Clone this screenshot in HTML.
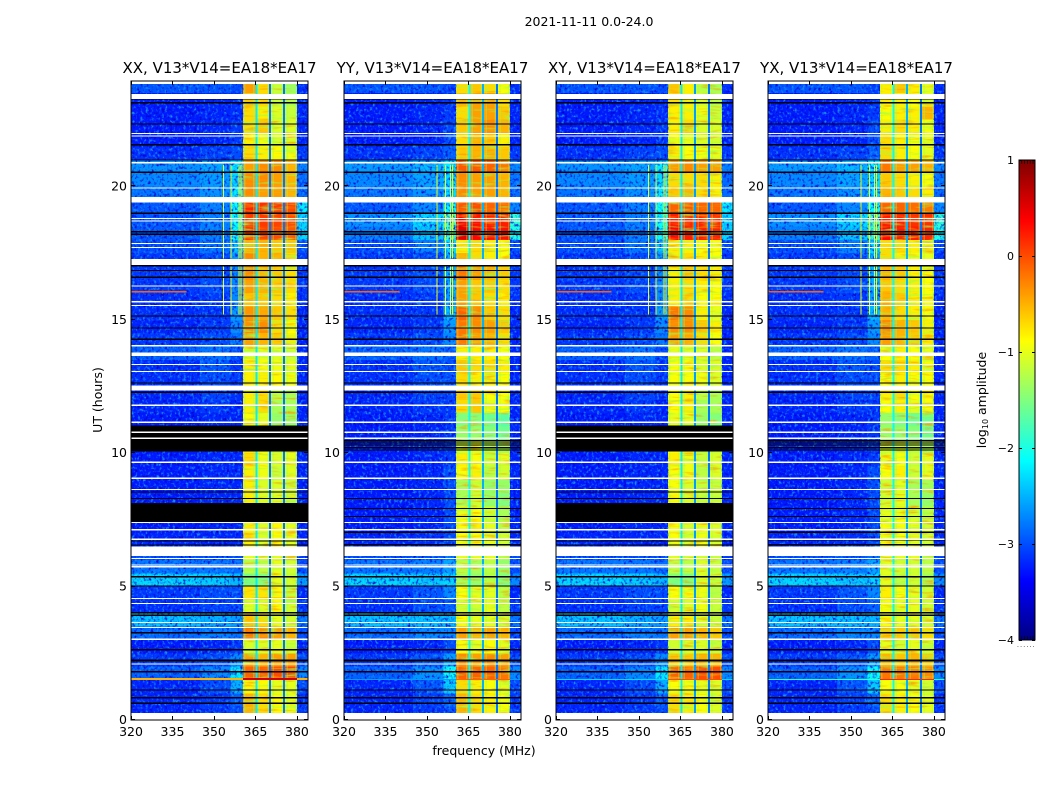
<!DOCTYPE html>
<html>
<head>
<meta charset="utf-8">
<title>2021-11-11 spectrogram</title>
<style>
html,body{margin:0;padding:0;background:#fff;width:1050px;height:800px;overflow:hidden}
svg{display:block}
text{font-family:"DejaVu Sans","Liberation Sans",sans-serif;fill:#000}
</style>
</head>
<body>
<svg id="figure" xmlns="http://www.w3.org/2000/svg" width="1050" height="800" viewBox="0 0 1050 800">
  <defs>
    <filter id="speckle-light" x="0" y="0" width="1" height="1" color-interpolation-filters="sRGB">
      <feTurbulence type="fractalNoise" baseFrequency="0.37 0.33" numOctaves="2" seed="3"/>
      <feColorMatrix values="0 0 0 0 .1  0 0 0 0 .55  0 0 0 0 1  3.5 0 0 0 -1.8"/>
    </filter>
    <filter id="speckle-dark" x="0" y="0" width="1" height="1" color-interpolation-filters="sRGB">
      <feTurbulence type="fractalNoise" baseFrequency="0.37 0.33" numOctaves="2" seed="11"/>
      <feColorMatrix values="0 0 0 0 0  0 0 0 0 0  0 0 0 0 .8  0 3 0 0 -1.55"/>
    </filter>
    <filter id="stripe-green" x="0" y="0" width="1" height="1" color-interpolation-filters="sRGB">
      <feTurbulence type="fractalNoise" baseFrequency="0.05 0.34" numOctaves="2" seed="5"/>
      <feColorMatrix values="0 0 0 0 .6  0 0 0 0 1  0 0 0 0 .3  2.5 0 0 0 -1.35"/>
    </filter>
    <filter id="stripe-orange" x="0" y="0" width="1" height="1" color-interpolation-filters="sRGB">
      <feTurbulence type="fractalNoise" baseFrequency="0.05 0.34" numOctaves="2" seed="17"/>
      <feColorMatrix values="0 0 0 0 1  0 0 0 0 .6  0 0 0 0 0  2.5 0 0 0 -1.35"/>
    </filter>
  </defs>
  <text x="589" y="26" font-size="12.5" text-anchor="middle">2021-11-11 0.0-24.0</text>
  <text x="484" y="755" font-size="12.5" text-anchor="middle">frequency (MHz)</text>
  <text x="102" y="400" font-size="12.5" text-anchor="middle" transform="rotate(-90 102 400)">UT (hours)</text>
  <text x="986" y="400" font-size="12.5" text-anchor="middle" transform="rotate(-90 986 400)">log<tspan font-size="8" dy="2">10</tspan><tspan dy="-2"> amplitude</tspan></text>
  <g id="panels"></g>
  <g id="colorbar"></g>
</svg>
<script>
// ---- axis data ----
const panelNames = ['XX', 'YY', 'XY', 'YX'];
const panelTitleSuffix = ', V13*V14=EA18*EA17';
const freqTicks = [320, 335, 350, 365, 380];
const hourTicks = [0, 5, 10, 15, 20];
const colorTicks = [-4, -3, -2, -1, 0, 1];
const quietEdges = [320, 345, 356, 360.5];
const bandEdges = [360.5, 365, 370, 375, 380];
const outerEdges = [380, 384];
const hourStep = [0.5];

// ---- log10 amplitude outside the band per half-hour row: [320-345, 345-356, 356-360.5, 380-384] ----
const quietA = [
[-3.2,-3.1,-3.0,-3.1],[-3.2,-3.1,-2.9,-3.1],[-3.2,-3.0,-2.5,-3.0],[-2.9,-2.7,-2.2,-2.7],
[-3.1,-3.0,-2.7,-3.0],[-3.25,-3.2,-3.1,-3.2],[-2.85,-2.75,-2.8,-3.0],[-2.4,-2.5,-2.6,-2.8],
[-3.15,-3.05,-3.05,-3.1],[-3.1,-3.0,-3.0,-3.2],[-2.3,-2.35,-2.45,-2.6],[-2.8,-2.8,-2.85,-3.0],
[-3.0,-3.0,-3.0,-3.1],[-3.2,-3.2,-3.2,-3.2],[-3.25,-3.2,-3.2,-3.2],[-3.25,-3.2,-3.2,-3.2],
[-3.25,-3.2,-3.2,-3.2],[-3.25,-3.2,-3.2,-3.2],[-3.25,-3.2,-3.2,-3.2],[-3.25,-3.2,-3.2,-3.2],
[-3.25,-3.2,-3.2,-3.2],[-3.25,-3.2,-3.2,-3.2],[-3.25,-3.2,-3.2,-3.2],[-3.2,-3.1,-3.2,-3.2],
[-3.2,-3.05,-3.15,-3.2],[-3.15,-3.0,-3.1,-3.2],[-3.15,-2.95,-3.1,-3.2],[-2.9,-2.8,-3.0,-3.2],
[-3.1,-3.0,-2.8,-3.2],[-3.2,-3.1,-2.7,-3.2],[-3.15,-3.1,-2.6,-3.2],[-3.15,-3.1,-2.7,-3.15],
[-3.1,-3.0,-2.7,-3.1],[-3.1,-3.0,-2.7,-3.1],[-3.1,-3.0,-2.6,-3.1],[-3.0,-2.8,-2.4,-3.0],
[-2.95,-2.75,-2.1,-2.3],[-2.95,-2.75,-2.1,-2.3],[-2.95,-2.75,-2.1,-2.2],[-2.8,-2.65,-2.2,-2.85],
[-2.7,-2.6,-2.3,-2.85],[-2.65,-2.55,-2.2,-2.75],[-3.15,-3.05,-3.0,-3.1],[-3.25,-3.2,-3.1,-3.2],
[-3.25,-3.2,-3.1,-3.2],[-3.25,-3.2,-3.15,-3.2],[-3.25,-3.2,-3.15,-3.2],[-2.95,-2.95,-3.0,-3.15]
];
const quietB = [
[-3.2,-3.1,-3.0,-3.1],[-3.2,-3.05,-2.85,-3.1],[-3.2,-2.95,-2.35,-3.0],[-2.9,-2.65,-2.1,-2.7],
[-3.1,-2.95,-2.6,-3.0],[-3.25,-3.2,-3.0,-3.2],[-2.85,-2.7,-2.7,-3.0],[-2.4,-2.4,-2.45,-2.8],
[-3.15,-3.0,-2.9,-3.1],[-3.1,-2.95,-2.7,-3.2],[-2.3,-2.35,-2.3,-2.7],[-2.8,-2.75,-2.55,-3.0],
[-3.0,-2.95,-2.8,-3.0],[-3.2,-3.15,-3.0,-3.2],[-3.25,-3.2,-3.0,-3.2],[-3.25,-3.2,-3.0,-3.2],
[-3.25,-3.2,-3.0,-3.2],[-3.25,-3.2,-3.0,-3.2],[-3.25,-3.2,-3.0,-3.2],[-3.25,-3.2,-3.1,-3.2],
[-3.25,-3.2,-3.1,-3.2],[-3.25,-3.2,-3.1,-3.2],[-3.25,-3.2,-3.1,-3.2],[-3.2,-3.1,-3.1,-3.2],
[-3.2,-3.05,-3.05,-3.2],[-3.15,-3.0,-3.0,-3.2],[-3.15,-2.95,-3.0,-3.2],[-2.9,-2.8,-2.9,-3.2],
[-3.1,-3.0,-2.7,-3.2],[-3.2,-3.1,-2.6,-3.2],[-3.15,-3.1,-2.45,-3.2],[-3.15,-3.1,-2.6,-3.15],
[-3.1,-3.0,-2.5,-3.1],[-3.1,-3.0,-2.5,-3.1],[-3.1,-3.0,-2.5,-3.1],[-3.0,-2.75,-2.3,-3.0],
[-2.75,-2.4,-1.8,-2.0],[-2.65,-2.3,-1.7,-1.9],[-2.95,-2.7,-2.1,-2.7],[-2.8,-2.65,-2.3,-2.85],
[-2.7,-2.55,-2.3,-2.8],[-2.6,-2.45,-2.2,-2.7],[-3.15,-3.05,-2.9,-3.1],[-3.25,-3.2,-3.0,-3.2],
[-3.25,-3.2,-3.0,-3.2],[-3.25,-3.2,-3.1,-3.2],[-3.25,-3.2,-3.1,-3.2],[-2.95,-2.95,-3.05,-3.15]
];

// ---- log10 amplitude of the four sub-bands per half-hour row ----
const bandXX = [
[-0.5,-0.7,-0.85,-1.0],[-0.5,-0.7,-0.85,-1.0],[-0.85,-0.85,-1.0,-1.0],[-0.1,-0.1,0.0,0.05],
[-0.4,-0.5,-0.4,-0.4],[-1.05,-1.05,-1.0,-1.1],[-0.2,-0.3,-0.4,-0.5],[-0.6,-0.7,-1.0,-1.1],
[-1.0,-1.05,-0.85,-1.1],[-0.75,-0.75,-0.85,-1.15],[-1.55,-1.5,-1.0,-1.1],[-1.2,-1.2,-1.0,-1.1],
[-1.0,-1.1,-1.0,-1.1],[-0.8,-1.05,-0.85,-1.0],[-0.8,-1.05,-0.85,-1.0],[-0.8,-1.05,-0.95,-1.1],
[-0.8,-1.05,-1.05,-1.1],[-0.8,-1.05,-1.05,-1.1],[-0.8,-0.95,-1.15,-1.0],[-0.7,-0.95,-1.05,-1.0],
[-0.8,-0.95,-1.15,-1.1],[-0.9,-1.0,-1.3,-1.3],[-0.9,-1.0,-1.4,-1.4],[-0.8,-0.7,-1.3,-1.3],
[-0.8,-0.7,-1.2,-1.3],[-0.8,-0.8,-0.85,-0.95],[-0.8,-0.9,-0.95,-1.0],[-1.0,-1.0,-1.05,-1.15],
[-0.4,-0.5,-0.6,-0.8],[-0.3,-0.3,-0.7,-0.9],[-0.35,-0.45,-0.6,-0.7],[-0.6,-0.6,-0.7,-0.8],
[-0.4,-0.5,-0.6,-0.7],[-0.3,-0.5,-0.6,-0.7],[-0.3,-0.5,-0.5,-0.7],[-0.5,-0.5,-0.6,-0.6],
[0.1,0.05,0.0,-0.05],[0.1,0.1,0.05,0.0],[0.2,0.15,0.1,0.05],[-0.3,-0.4,-0.4,-0.5],
[-0.3,-0.3,-0.4,-0.5],[-0.4,-0.3,-0.3,-0.5],[-0.7,-0.8,-0.85,-0.95],[-0.8,-0.95,-1.05,-1.05],
[-0.7,-0.6,-1.05,-1.05],[-0.7,-0.8,-1.05,-1.15],[-0.6,-0.7,-1.15,-1.25],[-0.4,-0.7,-1.15,-1.35]
];
const bandYY = [
[-0.5,-0.7,-0.8,-0.9],[-0.5,-0.7,-0.8,-0.9],[-0.7,-0.8,-0.9,-1.0],[-0.1,-0.1,-0.1,-0.2],
[-0.3,-0.4,-0.3,-0.4],[-0.9,-1.0,-0.9,-1.0],[-0.4,-0.5,-0.4,-0.5],[-0.9,-1.0,-1.0,-1.1],
[-1.1,-1.1,-1.0,-1.2],[-0.9,-1.0,-1.0,-1.2],[-1.3,-1.4,-1.2,-1.5],[-1.2,-1.3,-1.2,-1.4],
[-1.0,-1.0,-1.0,-1.2],[-0.9,-0.9,-1.0,-1.1],[-0.9,-0.8,-1.0,-1.2],[-1.0,-0.9,-1.1,-1.3],
[-1.3,-1.1,-1.4,-1.5],[-1.3,-1.1,-1.4,-1.4],[-0.9,-0.8,-1.2,-1.1],[-0.8,-0.9,-1.1,-1.0],
[-1.1,-1.0,-1.2,-1.3],[-1.4,-1.4,-1.5,-1.6],[-1.5,-1.5,-1.6,-1.7],[-0.7,-0.6,-1.0,-0.9],
[-0.6,-0.6,-0.9,-0.9],[-0.7,-0.8,-0.8,-0.9],[-0.6,-0.7,-0.7,-0.8],[-0.8,-0.8,-0.8,-0.9],
[-0.2,-0.4,-0.5,-0.7],[-0.2,-0.3,-0.4,-0.6],[-0.1,-0.3,-0.6,-0.7],[-0.4,-0.6,-0.7,-0.8],
[-0.4,-0.6,-0.6,-0.7],[-0.2,-0.4,-0.5,-0.6],[-0.5,-0.7,-0.8,-0.9],[-0.8,-0.7,-0.8,-0.9],
[0.5,0.35,0.3,0.3],[0.4,0.3,0.25,0.25],[-0.05,0.0,-0.1,-0.15],[-0.3,-0.4,-0.4,-0.5],
[-0.3,-0.4,-0.4,-0.5],[-0.05,-0.05,-0.1,-0.2],[-0.6,-0.5,-0.5,-0.6],[-0.7,-0.5,-0.6,-0.8],
[-0.6,-0.4,-0.3,-0.5],[-0.7,-0.4,-0.4,-0.6],[-0.5,-0.4,-0.4,-0.7],[-0.7,-0.6,-0.7,-0.9]
];
const bandXY = [
[-0.7,-0.8,-0.9,-1.05],[-0.7,-0.8,-0.9,-1.05],[-0.9,-0.9,-1.0,-1.05],[-0.1,-0.1,0.0,0.0],
[-0.6,-0.6,-0.5,-0.5],[-1.1,-1.05,-1.05,-1.15],[-0.4,-0.4,-0.5,-0.6],[-0.8,-0.8,-1.05,-1.15],
[-1.1,-1.05,-0.95,-1.15],[-0.9,-0.9,-0.95,-1.2],[-1.55,-1.5,-1.05,-1.15],[-1.2,-1.2,-1.05,-1.15],
[-1.0,-1.1,-1.05,-1.15],[-0.9,-1.05,-0.95,-1.05],[-0.9,-1.05,-0.95,-1.05],[-0.9,-1.05,-1.05,-1.15],
[-0.9,-1.05,-1.15,-1.15],[-0.9,-1.05,-1.15,-1.15],[-0.9,-0.95,-1.2,-1.05],[-0.8,-0.95,-1.15,-1.05],
[-0.9,-0.95,-1.2,-1.15],[-1.0,-1.0,-1.4,-1.4],[-1.0,-1.0,-1.4,-1.5],[-0.9,-0.8,-1.3,-1.3],
[-0.9,-0.8,-1.2,-1.3],[-0.9,-0.9,-0.95,-1.05],[-0.9,-0.9,-1.05,-1.05],[-1.0,-1.0,-1.05,-1.2],
[-0.4,-0.5,-0.7,-0.9],[-0.3,-0.3,-0.6,-0.8],[-0.2,-0.3,-0.8,-1.0],[-0.8,-0.7,-0.9,-0.9],
[-0.8,-0.7,-0.8,-0.9],[-0.8,-0.6,-0.7,-0.8],[-0.8,-0.7,-0.8,-0.9],[-0.8,-0.8,-0.9,-0.9],
[0.35,0.25,0.25,0.2],[0.25,0.2,0.2,0.15],[-0.1,-0.05,-0.1,-0.1],[-0.6,-0.5,-0.7,-0.8],
[-0.7,-0.7,-0.7,-0.8],[-0.4,-0.3,-0.4,-0.4],[-0.8,-0.9,-0.9,-1.0],[-0.9,-1.0,-1.05,-1.1],
[-0.8,-0.7,-1.05,-1.05],[-0.8,-0.8,-0.95,-1.15],[-0.7,-0.8,-1.05,-1.2],[-0.6,-0.8,-1.2,-1.3]
];
const bandYX = [
[-0.7,-0.8,-0.9,-1.0],[-0.7,-0.8,-0.9,-1.0],[-0.9,-0.9,-1.0,-1.1],[-0.2,-0.2,-0.2,-0.3],
[-0.5,-0.6,-0.5,-0.6],[-1.0,-1.1,-1.0,-1.1],[-0.6,-0.6,-0.6,-0.7],[-0.9,-1.0,-1.0,-1.1],
[-0.9,-1.0,-1.0,-1.1],[-0.8,-0.9,-1.0,-1.1],[-1.0,-1.2,-1.1,-1.3],[-1.0,-1.1,-1.1,-1.2],
[-1.0,-1.0,-1.0,-1.2],[-0.9,-0.9,-1.0,-1.1],[-0.9,-0.9,-1.0,-1.1],[-1.0,-1.0,-1.1,-1.2],
[-1.1,-1.0,-1.3,-1.4],[-1.1,-1.0,-1.3,-1.3],[-0.9,-0.8,-1.1,-1.0],[-0.9,-0.9,-1.1,-1.0],
[-1.1,-1.1,-1.2,-1.3],[-1.4,-1.4,-1.5,-1.6],[-1.4,-1.5,-1.6,-1.6],[-0.9,-0.8,-1.0,-0.9],
[-0.8,-0.7,-0.9,-0.9],[-0.9,-0.8,-0.9,-0.9],[-0.7,-0.7,-0.8,-0.9],[-0.9,-0.8,-0.9,-1.0],
[-0.4,-0.5,-0.6,-0.8],[-0.3,-0.5,-0.6,-0.8],[-0.5,-0.7,-0.8,-0.9],[-0.5,-0.6,-0.8,-0.9],
[-0.6,-0.7,-0.8,-0.9],[-0.5,-0.6,-0.8,-0.9],[-0.7,-0.8,-0.9,-1.0],[-0.7,-0.7,-0.8,-1.0],
[0.35,0.25,0.25,0.2],[0.25,0.2,0.15,0.15],[-0.1,-0.1,-0.15,-0.2],[-0.5,-0.6,-0.7,-0.8],
[-0.6,-0.7,-0.8,-0.9],[-0.2,-0.4,-0.4,-0.5],[-0.7,-0.8,-0.9,-1.0],[-0.7,-0.8,-0.9,-1.0],
[-0.8,-0.7,-0.8,-0.9],[-0.9,-0.8,-0.8,-0.5],[-0.8,-0.8,-0.9,-1.0],[-0.8,-0.6,-0.8,-1.0]
];

// ---- vertical notch channels between sub-bands: centre MHz and level per panel ----
const notchFreqs = [365.2, 370.2, 375.3];
const notchXX = [-2.2, -2.8, -2.8];
const notchYY = [-2.1, -2.5, -2.8];
const notchXY = [-2.2, -2.6, -2.8];
const notchYX = [-2.1, -2.5, -2.8];
const flankFreqs = [360.9, 364.2, 366.1, 369.3, 371.1, 374.4, 376.2, 379.3];
const flankLevel = [-1.4];

// ---- narrow RFI tracks ----
const rfiChannelsA = [353.3, 355.9, 358.8, 359.6];
const rfiChannelsB = [356.6, 358.3, 359.0, 353.5];
const rfiSpans = [[15.2, 17.05], [17.3, 20.8]];
const rfiLevel = [-1.0];
const burstHour = [16.03];
const burstFreq = [320, 340];
const burstLevel = [-0.1];
const sweepHour = [1.5];
const sweepThickness = [0.08, 0.04, 0.04, 0.04];
const sweepLevels = [-0.5, -2.6, -2.3, -1.9];
const sweepBandLevels = [0.6, -0.1, 0.0, 0.2];

// ---- flagged hours ----
const whiteSpans = [[0,0.27],[6.15,6.5],[12.35,12.54],[13.64,13.77],[17.05,17.27],[19.4,19.6],[23.28,23.47],[23.84,24]];
const whiteLines = [2.1,3.03,3.47,3.66,4.37,4.56,5.75,5.81,6.06,6.78,7.13,7.4,8.64,9.06,9.66,10.56,10.79,11.16,11.8,13.07,13.33,14.03,15.54,15.68,16.27,17.71,17.86,18.71,18.8,19.94,20.89,21.89,21.99];
const blackSpansA = [[7.43,8.13],[10.06,11.03],[2.2,2.26],[2.6,2.66],[18.18,18.24],[18.96,19.02],[21.53,21.59]];
const blackSpansB = [[2.2,2.26],[2.6,2.66],[18.18,18.24],[18.96,19.02],[21.53,21.59]];
const blackLinesA = [0.63,0.84,1.13,1.81,3.27,3.93,4.02,5.03,5.37,6.56,6.71,8.31,8.55,12.29,12.63,14.27,14.7,15.15,16.6,16.85,17.03,18.3,20.53,20.99,22.34,23.14,23.29];
const blackLinesB = [0.63,0.84,1.13,1.81,3.27,3.93,4.02,5.03,5.37,6.57,6.75,7.04,7.63,7.93,8.31,10.12,10.21,10.31,10.38,10.47,12.29,12.63,14.27,14.7,15.15,16.6,16.85,17.03,18.3,20.53,20.99,22.34,23.14,23.29];

// ---- layout ----
const NS = 'http://www.w3.org/2000/svg';
const panelLeft = [131, 344, 556, 768];
const panelWidth = 177, plotTop = 81, plotBottom = 720;
const freqMin = 320, freqMax = 384, hourMin = 0, hourMax = 23.95;

function xScale(f, left) { return left + (f - freqMin) / (freqMax - freqMin) * panelWidth; }
function yScale(h) { return plotBottom - (h - hourMin) / (hourMax - hourMin) * (plotBottom - plotTop); }
function jet(v) {
  const t = Math.max(0, Math.min(1, (v + 4) / 5));
  const c = x => Math.round(255 * Math.max(0, Math.min(1, x)));
  const r = c(Math.min(4 * t - 1.5, -4 * t + 4.5));
  const g = c(Math.min(4 * t - 0.5, -4 * t + 3.5));
  const b = c(Math.min(4 * t + 0.5, -4 * t + 2.5));
  return 'rgb(' + r + ',' + g + ',' + b + ')';
}
function make(parent, tag, attrs) {
  const el = document.createElementNS(NS, tag);
  for (const k in attrs) el.setAttribute(k, attrs[k]);
  parent.appendChild(el);
  return el;
}

const panelsRoot = document.getElementById('panels');
const quietByPanel = [quietA, quietB, quietA, quietB];
const bandByPanel = [bandXX, bandYY, bandXY, bandYX];
const notchByPanel = [notchXX, notchYY, notchXY, notchYX];
const rfiByPanel = [rfiChannelsA, rfiChannelsB, rfiChannelsA, rfiChannelsB];
const blackSpanByPanel = [blackSpansA, blackSpansB, blackSpansA, blackSpansB];
const blackLineByPanel = [blackLinesA, blackLinesB, blackLinesA, blackLinesB];

panelNames.forEach(function (name, p) {
  const left = panelLeft[p];
  const lname = name.toLowerCase();
  const g = make(panelsRoot, 'g', { 'shape-rendering': 'crispEdges' });
  
  

  const hline = function (h0, h1, fill, f0, f1) {
    const y0 = yScale(Math.min(h1, hourMax)), y1 = yScale(h0);
    const x0 = xScale(f0 === undefined ? freqMin : f0, left), x1 = xScale(f1 === undefined ? freqMax : f1, left);
    return make(g, 'rect', { x: x0.toFixed(2), y: y0.toFixed(2), width: (x1 - x0).toFixed(2), height: Math.max(1.2, y1 - y0).toFixed(2), fill: fill });
  };
  const hH = plotBottom - plotTop;

  // heatmap cells: quiet columns, sub-bands, outer column
  quietByPanel[p].forEach(function (row, r) {
    const h0 = r * hourStep[0], h1 = (r + 1) * hourStep[0] + 0.02;
    for (let c = 0; c < quietEdges.length - 1; c++) {
      const cell = hline(h0, h1, jet(row[c]), quietEdges[c], quietEdges[c + 1]);
      
      
    }
    const outer = hline(h0, h1, jet(row[3]), outerEdges[0], outerEdges[1]);
    
    
  });
  bandByPanel[p].forEach(function (row, r) {
    const h0 = r * hourStep[0], h1 = (r + 1) * hourStep[0] + 0.02;
    row.forEach(function (value, c) {
      const cell = hline(h0, h1, jet(value), bandEdges[c], bandEdges[c + 1]);
      
      
    });
  });

  // texture
  const qx = xScale(freqMin, left), qw = xScale(360.5, left) - qx;
  const ox = xScale(380, left), ow = xScale(384, left) - ox;
  const bx = xScale(360.5, left), bw = ox - bx;
  [['speckle-light', qx, qw], ['speckle-dark', qx, qw], ['speckle-light', ox, ow], ['speckle-dark', ox, ow], ['stripe-green', bx, bw], ['stripe-orange', bx, bw]].forEach(function (o) {
    const t = make(g, 'rect', { x: o[1].toFixed(2), y: plotTop, width: o[2].toFixed(2), height: hH, filter: 'url(#' + o[0] + ')', fill: '#000' });
    
    
  });

  // band flanks
  flankFreqs.forEach(function (f) {
    const fl = make(g, 'rect', { x: xScale(f, left).toFixed(2), y: plotTop, width: 1.5, height: hH, fill: jet(flankLevel[0]), opacity: 0.35 });
    
    
  });

  // notch channels
  notchFreqs.forEach(function (f, i) {
    const n = make(g, 'rect', { x: (xScale(f, left) - 0.7).toFixed(2), y: plotTop, width: 2, height: hH, fill: jet(notchByPanel[p][i]) });
    
    
  });

  // vertical RFI tracks
  rfiByPanel[p].forEach(function (f) {
    rfiSpans.forEach(function (span) {
      const track = make(g, 'rect', { x: xScale(f, left).toFixed(2), y: yScale(span[1]).toFixed(2), width: 1, height: (yScale(span[0]) - yScale(span[1])).toFixed(2), fill: jet(rfiLevel[0]) });
      
      
    });
  });

  // horizontal bursts
  const burst = hline(burstHour[0], burstHour[0] + 0.05, jet(burstLevel[0]), burstFreq[0], burstFreq[1]);
  
  
  const sweep = hline(sweepHour[0], sweepHour[0] + sweepThickness[p], jet(sweepLevels[p]));
  
  
  const sweepCore = hline(sweepHour[0], sweepHour[0] + sweepThickness[p], jet(sweepBandLevels[p]), 360.5, 380);
  
  

  // flags
  blackSpanByPanel[p].forEach(function (s) {
    const b = hline(s[0], s[1], '#000');
    
    
  });
  blackLineByPanel[p].forEach(function (h) {
    const b = hline(h - 0.02, h + 0.02, '#000');
    
    
  });
  whiteSpans.forEach(function (s) {
    const w = hline(s[0], s[1], '#fff');
    
    
  });
  whiteLines.forEach(function (h) {
    const w = hline(h - 0.02, h + 0.02, '#fff');
    
    
  });

  // frame
  const frame = make(panelsRoot, 'rect', { x: left, y: plotTop, width: panelWidth, height: plotBottom - plotTop, fill: 'none', stroke: '#000', 'stroke-width': 1 });
  
  

  // title
  const title = make(panelsRoot, 'text', { x: left + panelWidth / 2, y: 73, 'font-size': 15, 'text-anchor': 'middle' });
  title.textContent = name + panelTitleSuffix;
  
  

  // x ticks
  freqTicks.forEach(function (f) {
    const x = Math.round(xScale(f, left)) + 0.5;
    [[plotBottom, plotBottom - 4], [plotTop, plotTop + 4]].forEach(function (e) {
      const t = make(panelsRoot, 'line', { x1: x, x2: x, y1: e[0], y2: e[1], stroke: '#000', 'stroke-width': 1 });
      
      
    });
    const l = make(panelsRoot, 'text', { x: xScale(f, left), y: 736, 'font-size': 12.5, 'text-anchor': 'middle' });
    l.textContent = f;
    
    
  });

  // y ticks
  hourTicks.forEach(function (h) {
    const y = Math.round(yScale(h)) - 0.5;
    [[left, left + 4], [left + panelWidth, left + panelWidth - 4]].forEach(function (e) {
      const t = make(panelsRoot, 'line', { x1: e[0], x2: e[1], y1: y, y2: y, stroke: '#000', 'stroke-width': 1 });
      
      
    });
    const l = make(panelsRoot, 'text', { x: left - 4, y: yScale(h) + 4, 'font-size': 12.5, 'text-anchor': 'end' });
    l.textContent = h;
    
    
  });
});

// ---- colorbar ----
const cbRoot = document.getElementById('colorbar');
const cbLeft = 1019, cbRight = 1035, cbTop = 160, cbBottom = 640;
const cbSteps = 240;
function cbY(v) { return cbBottom - (v + 4) / 5 * (cbBottom - cbTop); }
for (let i = 0; i < cbSteps; i++) {
  const v0 = -4 + 5 * i / cbSteps, v1 = -4 + 5 * (i + 1) / cbSteps;
  const s = make(cbRoot, 'rect', { x: cbLeft, y: cbY(v1).toFixed(2), width: cbRight - cbLeft, height: (cbY(v0) - cbY(v1) + 0.5).toFixed(2), fill: jet((v0 + v1) / 2), 'shape-rendering': 'crispEdges' });
  
  
}
const cbFrame = make(cbRoot, 'rect', { x: cbLeft, y: cbTop, width: cbRight - cbLeft, height: cbBottom - cbTop, fill: 'none', stroke: '#000', 'stroke-width': 1 });


for (let k = 1; k < 6; k++) {
  const x = cbLeft + k * 2.8;
  [[cbTop, cbTop + 4], [cbBottom, cbBottom - 4]].forEach(function (e) {
    const t = make(cbRoot, 'line', { x1: x, x2: x, y1: e[0], y2: e[1], stroke: '#000', 'stroke-width': 0.6 });
    
    
  });
}
colorTicks.forEach(function (v) {
  const y = Math.round(cbY(v)) + 0.5;
  [[cbLeft, cbLeft + 3], [cbRight, cbRight - 3]].forEach(function (e) {
    const t = make(cbRoot, 'line', { x1: e[0], x2: e[1], y1: y, y2: y, stroke: '#000', 'stroke-width': 1 });
    
    
  });
  const l = make(cbRoot, 'text', { x: 1014, y: cbY(v) + 4, 'font-size': 11, 'text-anchor': 'end' });
  l.textContent = v < 0 ? '\u2212' + Math.abs(v) : String(v);
  
  
});
const cbDots = make(cbRoot, 'text', { x: 1017, y: 647, 'font-size': 6, fill: '#777', 'letter-spacing': '1.2' });
cbDots.textContent = '......';


</script>
</body>
</html>
